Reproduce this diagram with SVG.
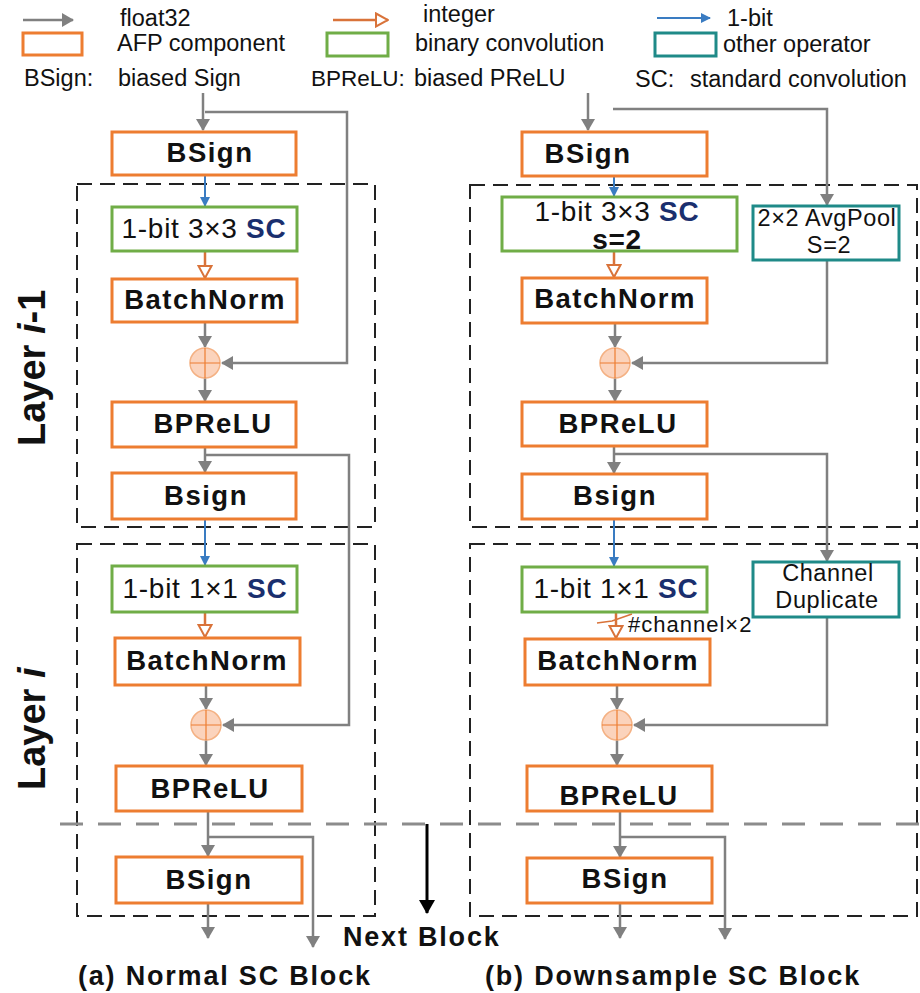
<svg xmlns="http://www.w3.org/2000/svg" width="920" height="993" viewBox="0 0 920 993">
<style>
text{font-family:"Liberation Sans",Arial,sans-serif;fill:#111}
.leg{font-size:23.5px}
.lbl{font-size:27.5px;font-weight:bold;letter-spacing:1.5px;text-anchor:middle}
.reg{font-size:28px;letter-spacing:0.7px;text-anchor:middle}
.sc{font-weight:bold;fill:#1a2f6e}
.op{font-size:23.5px;letter-spacing:0.6px;text-anchor:middle}
.cap{font-size:27px;font-weight:bold;letter-spacing:1.8px}
.afp{fill:#fff;stroke:#ed7d31;stroke-width:3}
.bin{fill:#fff;stroke:#70ad47;stroke-width:3}
.oth{fill:#fff;stroke:#1f8a88;stroke-width:3}
.layer{fill:none;stroke:#222;stroke-width:2;stroke-dasharray:15 8}
.f32{fill:none;stroke:#808080;stroke-width:2.5;marker-end:url(#ag)}
.bit{fill:none;stroke:#3a7cc2;stroke-width:2;marker-end:url(#ab)}
.int{fill:none;stroke:#d9733a;stroke-width:2.5;marker-end:url(#ao)}
.sum circle{fill:#fbd3bc;stroke:#f4b183;stroke-width:1.5}
.sum path{stroke:#ed7d31;stroke-width:1.2}
</style>
<defs>
<marker id="ag" viewBox="0 0 12 14" refX="11" refY="7" markerWidth="12" markerHeight="14" orient="auto" markerUnits="userSpaceOnUse"><path d="M0,0 L12,7 L0,14 Z" fill="#808080"/></marker>
<marker id="ab" viewBox="0 0 10 10" refX="9" refY="5" markerWidth="10" markerHeight="10" orient="auto" markerUnits="userSpaceOnUse"><path d="M0,0 L10,5 L0,10 Z" fill="#3a7cc2"/></marker>
<marker id="ao" viewBox="0 0 14 16" refX="13" refY="8" markerWidth="14" markerHeight="16" orient="auto" markerUnits="userSpaceOnUse"><path d="M1,1.5 L13,8 L1,14.5 Z" fill="#fff" stroke="#d9733a" stroke-width="2"/></marker>
<marker id="ak" viewBox="0 0 14 16" refX="13" refY="8" markerWidth="14" markerHeight="16" orient="auto" markerUnits="userSpaceOnUse"><path d="M0,0 L14,8 L0,16 Z" fill="#000"/></marker>
</defs>

<g id="legend">
<path class="f32" d="M23,20 H73"/>
<text class="leg" x="120" y="26">float32</text>
<rect class="afp" x="23" y="33" width="59" height="22"/>
<text class="leg" x="117" y="51">AFP component</text>
<text class="leg" x="24" y="86">BSign:</text>
<text class="leg" x="118" y="86">biased Sign</text>
<path class="int" d="M333,20 H388"/>
<text class="leg" x="423" y="22">integer</text>
<rect class="bin" x="327" y="33" width="61" height="23"/>
<text class="leg" x="415" y="51">binary convolution</text>
<text class="leg" x="311" y="86" style="font-size:22.5px">BPReLU:</text>
<text class="leg" x="414" y="86">biased PReLU</text>
<path class="bit" d="M657,18 H710"/>
<text class="leg" x="727" y="26">1-bit</text>
<rect class="oth" x="655" y="33" width="61" height="23"/>
<text class="leg" x="723" y="52">other operator</text>
<text class="leg" x="635" y="87">SC:</text>
<text class="leg" x="690" y="87">standard convolution</text>
</g>

<g id="layer-frames">
<rect class="layer" x="77" y="184" width="298" height="343"/>
<rect class="layer" x="77" y="544" width="298" height="372"/>
<rect class="layer" x="470" y="185" width="447" height="342"/>
<rect class="layer" x="470" y="544" width="447" height="372"/>
<path d="M60,824 H920" fill="none" stroke="#8c8c8c" stroke-width="3" stroke-dasharray="23 15"/>
</g>

<g id="layer-labels">
<text transform="translate(45,446) rotate(-90)" style="font-size:38px;font-weight:bold">Layer <tspan font-style="italic">i</tspan>-1</text>
<text transform="translate(45,790) rotate(-90)" style="font-size:38px;font-weight:bold">Layer <tspan font-style="italic">i</tspan></text>
</g>

<g id="connectors">
<path class="f32" d="M203,93 V130"/>
<path class="f32" d="M205,112 H347 V363 H222"/>
<path class="bit" d="M205,175 V206"/>
<path class="int" d="M205,251 V278"/>
<path class="f32" d="M205,322 V347"/>
<path class="f32" d="M205,378 V401"/>
<path class="f32" d="M205,447 V472"/>
<path class="f32" d="M205,455 H349 V725 H223"/>
<path class="bit" d="M205,519 V565"/>
<path class="int" d="M205,612 V637"/>
<path class="f32" d="M206,685 V709"/>
<path class="f32" d="M206,740 V765"/>
<path class="f32" d="M208,811 V856"/>
<path class="f32" d="M208,837 H313 V947"/>
<path class="f32" d="M208,903 V938"/>
<path class="f32" d="M588,93 V130"/>
<path class="f32" d="M613,109 H827 V205"/>
<path class="bit" d="M614,176 V196"/>
<path class="int" d="M614,251 V277"/>
<path class="f32" d="M615,323 V347"/>
<path class="f32" d="M827,260 V363 H632"/>
<path class="f32" d="M615,378 V401"/>
<path class="f32" d="M614,446 V473"/>
<path class="f32" d="M614,454 H827 V561"/>
<path class="bit" d="M614,519 V566"/>
<path class="int" d="M616,612 V638"/>
<path d="M597,623 L612,621 L632,614" fill="none" stroke="#d9733a" stroke-width="1.5"/>
<path class="f32" d="M617,685 V709"/>
<path class="f32" d="M827,617 V725 H634"/>
<path class="f32" d="M617,740 V765"/>
<path class="f32" d="M620,811 V857"/>
<path class="f32" d="M620,837 H725 V939"/>
<path class="f32" d="M620,903 V938"/>
<path d="M427,824 V913" fill="none" stroke="#000" stroke-width="3" marker-end="url(#ak)"/>
</g>

<g id="a-bsign-in"><rect class="afp" x="112" y="132" width="184" height="43"/><text class="lbl" x="210" y="162">BSign</text></g>
<g id="a-conv3"><rect class="bin" x="112" y="207" width="185" height="44"/><text class="reg" x="204" y="238">1-bit 3×3 <tspan class="sc">SC</tspan></text></g>
<g id="a-bn1"><rect class="afp" x="112" y="279" width="185" height="43"/><text class="lbl" x="205" y="309">BatchNorm</text></g>
<g id="a-add1" class="sum"><circle cx="205" cy="363" r="15"/><path d="M190,363 H220 M205,348 V378"/></g>
<g id="a-bprelu1"><rect class="afp" x="112" y="402" width="184" height="45"/><text class="lbl" x="213" y="433">BPReLU</text></g>
<g id="a-bsign1"><rect class="afp" x="112" y="473" width="184" height="46"/><text class="lbl" x="206" y="505">Bsign</text></g>
<g id="a-conv1"><rect class="bin" x="112" y="566" width="185" height="46"/><text class="reg" x="205" y="598">1-bit 1×1 <tspan class="sc">SC</tspan></text></g>
<g id="a-bn2"><rect class="afp" x="115" y="638" width="185" height="47"/><text class="lbl" x="207" y="670">BatchNorm</text></g>
<g id="a-add2" class="sum"><circle cx="206" cy="725" r="15"/><path d="M191,725 H221 M206,710 V740"/></g>
<g id="a-bprelu2"><rect class="afp" x="116" y="766" width="186" height="45"/><text class="lbl" x="210" y="798">BPReLU</text></g>
<g id="a-bsign-out"><rect class="afp" x="116" y="857" width="186" height="46"/><text class="lbl" x="209" y="889">BSign</text></g>

<g id="b-bsign-in"><rect class="afp" x="522" y="132" width="185" height="44"/><text class="lbl" x="588" y="163">BSign</text></g>
<g id="b-conv3"><rect class="bin" x="502" y="197" width="235" height="54"/><text class="reg" x="617" y="221">1-bit 3×3 <tspan class="sc">SC</tspan></text><text class="reg" x="617" y="249" font-weight="bold">s=2</text></g>
<g id="b-avgpool"><rect class="oth" x="753" y="206" width="146" height="54"/><text class="op" x="827" y="226">2×2 AvgPool</text><text class="op" x="829" y="253">S=2</text></g>
<g id="b-bn1"><rect class="afp" x="522" y="278" width="185" height="45"/><text class="lbl" x="615" y="308">BatchNorm</text></g>
<g id="b-add1" class="sum"><circle cx="615" cy="363" r="15"/><path d="M600,363 H630 M615,348 V378"/></g>
<g id="b-bprelu1"><rect class="afp" x="522" y="402" width="185" height="44"/><text class="lbl" x="618" y="433">BPReLU</text></g>
<g id="b-bsign1"><rect class="afp" x="522" y="474" width="185" height="45"/><text class="lbl" x="615" y="505">Bsign</text></g>
<g id="b-conv1"><rect class="bin" x="522" y="567" width="185" height="45"/><text class="reg" x="616" y="598">1-bit 1×1 <tspan class="sc">SC</tspan></text></g>
<g id="b-dup"><rect class="oth" x="753" y="562" width="146" height="55"/><text class="op" x="828" y="581">Channel</text><text class="op" x="827" y="608">Duplicate</text></g>
<text class="op" x="628" y="632" style="text-anchor:start;font-size:22px;letter-spacing:1px">#channel×2</text>
<g id="b-bn2"><rect class="afp" x="525" y="639" width="185" height="46"/><text class="lbl" x="618" y="670">BatchNorm</text></g>
<g id="b-add2" class="sum"><circle cx="617" cy="725" r="15"/><path d="M602,725 H632 M617,710 V740"/></g>
<g id="b-bprelu2"><rect class="afp" x="527" y="766" width="185" height="45"/><text class="lbl" x="619" y="805">BPReLU</text></g>
<g id="b-bsign-out"><rect class="afp" x="527" y="858" width="185" height="45"/><text class="lbl" x="625" y="888">BSign</text></g>

<g id="captions">
<text class="cap" x="343" y="946">Next Block</text>
<text class="cap" x="78" y="985">(a) Normal SC Block</text>
<text class="cap" x="485" y="985">(b) Downsample SC Block</text>
</g>
</svg>
